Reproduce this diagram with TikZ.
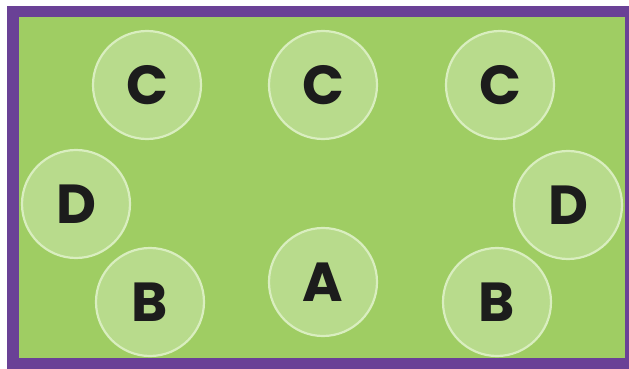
\documentclass[tikz,border=0pt]{standalone}
\usepackage{fontspec}
\setmainfont{Poppins}
\definecolor{bggreen}{HTML}{9FCD63}
\definecolor{circfill}{HTML}{B8DB8C}
\definecolor{circline}{HTML}{D9EEBF}
\definecolor{frame}{HTML}{6A4196}
\definecolor{ink}{HTML}{1C1C1C}
\tikzset{
  seat/.style={circle, fill=circfill, draw=circline, line width=2.2pt, minimum size=108pt, inner sep=0pt,
    font=\fontsize{55}{55}\selectfont\bfseries, text=ink, text depth=0pt}
}
\begin{document}
\begin{tikzpicture}[x=1pt,y=-1pt]
\useasboundingbox (0,0) rectangle (629,369);
\fill[white] (0,0) rectangle (629,369);
\fill[frame] (7,6) rectangle (629,369);
\fill[bggreen] (19,17) rectangle (625,358);
\node[seat] (c1) at (147,85) {C};
\node[seat] (c2) at (323,85) {C};
\node[seat] (c3) at (500,85) {C};
\node[seat] (d1) at (76,204) {D};
\node[seat] (d2) at (568,205) {D};
\node[seat] (b1) at (150,302) {B};
\node[seat] (a) at (323,282) {A};
\node[seat] (b2) at (497,302) {B};
\end{tikzpicture}
\end{document}
